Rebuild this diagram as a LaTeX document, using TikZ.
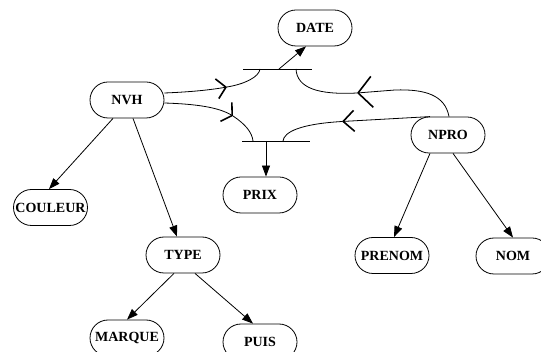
\documentclass[tikz,border=0pt]{standalone}
\usepackage{fontspec}
\setmainfont{Liberation Serif}
\usetikzlibrary{shapes.misc,arrows.meta}
\begin{document}
\begin{tikzpicture}[x=1pt,y=-1pt,
  ent/.style={draw,rounded rectangle,minimum width=78pt,minimum height=36pt,inner sep=2pt,
    line width=0.8pt,font=\bfseries\fontsize{14}{16}\selectfont},
  con/.style={line width=0.8pt},
  arr/.style={con,-{Triangle[length=11pt,width=8pt]}},
  bar/.style={line width=0.8pt}]
\clip (0,0) rectangle (541,352);
% entities
\node[ent] (DATE) at (315,28) {DATE};
\node[ent] (NVH) at (127,100) {NVH};
\node[ent] (COULEUR) at (50.5,207.5) {COULEUR};
\node[ent] (TYPE) at (183,255) {TYPE};
\node[ent] (MARQUE) at (127,338) {MARQUE};
\node[ent] (PUIS) at (260,342) {PUIS};
\node[ent] (PRIX) at (260,195) {PRIX};
\node[ent] (NPRO) at (448,135) {NPRO};
\node[ent] (PRENOM) at (392,255.5) {PRENOM};
\node[ent] (NOM) at (513,256) {NOM};
% relationship bars
\coordinate (b1l) at (243,69); \coordinate (b1r) at (312,69);
\coordinate (b2l) at (242,141); \coordinate (b2r) at (310,141);
\draw[bar] (b1l) -- (b1r);
\draw[bar] (b2l) -- (b2r);
\coordinate (b1d) at (279,69);
\coordinate (b1a) at (260,69);
\coordinate (b1b) at (296,69);
\coordinate (b2d) at (266,141);
\coordinate (b2a) at (253,141);
\coordinate (b2b) at (283,141);
% chevron points
\coordinate (ch1) at (357,93);
\coordinate (ch2) at (342,121.5);
\coordinate (ch3) at (227,87);
\coordinate (ch4) at (233,116);
% hierarchy arrows
\draw[arr] ([xshift=-14pt]NVH.south) -- ([xshift=-1.5pt]COULEUR.north);
\draw[arr] ([xshift=6pt]NVH.south) -- ([xshift=-6pt]TYPE.north);
\draw[arr] ([xshift=-9pt]TYPE.south) -- (MARQUE.north);
\draw[arr] ([xshift=12pt]TYPE.south) -- ([xshift=-7pt]PUIS.north);
\draw[arr] ([xshift=-18pt]NPRO.south) -- ([xshift=2pt]PRENOM.north);
\draw[arr] ([xshift=5pt]NPRO.south) -- (NOM.north);
\draw[arr] (b1d) -- ([xshift=-9pt]DATE.south);
\draw[arr] (b2d) -- ([xshift=6pt]PRIX.north);
% links to relationships
\draw[con,-{Straight Barb[length=9pt,width=20pt,line width=1.6pt]}] ([yshift=7pt]NVH.east) .. controls (190,92) and (210,90) .. (ch3);
\draw[con] (ch3) .. controls (245,84) and (259,77) .. (b1a);
\draw[con,-{Straight Barb[length=7pt,width=22pt,line width=1.6pt]}] ([yshift=-3pt]NVH.east) .. controls (195,104) and (218,107) .. (ch4);
\draw[con] (ch4) .. controls (245,124) and (252,132) .. (b2a);
\draw[con,-{Straight Barb[length=14pt,width=31pt,line width=1.6pt]}] ([xshift=1pt]NPRO.north) .. controls (445,95) and (425,89) .. (395,90) -- (ch1);
\draw[con] (ch1) .. controls (318,95) and (297,88) .. (b1b);
\draw[con,-{Straight Barb[length=11pt,width=21pt,line width=1.6pt]}] ([xshift=-18pt]NPRO.north) -- (ch2);
\draw[con] (ch2) .. controls (300,124) and (284,132) .. (b2b);
\end{tikzpicture}
\end{document}
